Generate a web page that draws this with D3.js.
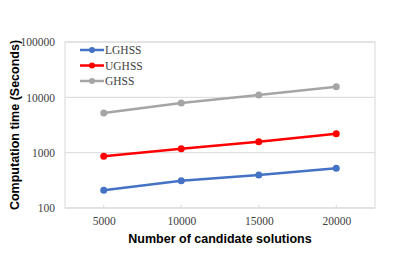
<!DOCTYPE html>
<html>
<head>
<meta charset="utf-8">
<script src="https://cdn.jsdelivr.net/npm/d3@7"></script>
<style>
  body { margin: 0; background: #fff; }
  .tick text { font-family: "Liberation Serif", serif; font-size: 11.5px; fill: #404040; }
  .title { font-family: "Liberation Sans", Arial, sans-serif; font-weight: bold; font-size: 12.5px; fill: #000; }
  .legend text { font-family: "Liberation Serif", serif; font-size: 11.5px; fill: #404040; }
</style>
</head>
<body>
<div id="chart"></div>
<script>
const categories = ["5000", "10000", "15000", "20000"]
const seriesNames = ["LGHSS", "UGHSS", "GHSS"]
const lghss = [209, 312, 395, 522]
const ughss = [861, 1180, 1580, 2200]
const ghss = [5220, 7920, 11050, 15600]
const yTicks = [100, 1000, 10000, 100000]
const colors = ["#4472C4", "#FF0000", "#A5A5A5"]

const series = [lghss, ughss, ghss].map((values, i) => ({
  name: seriesNames[i],
  color: colors[i],
  values: values.map((v, j) => ({ cat: categories[j], value: v }))
}))

const W = 397, H = 270
const margin = { top: 42, right: 22, bottom: 62, left: 65 }
const width = W - margin.left - margin.right
const height = H - margin.top - margin.bottom

const svg = d3.select("#chart").append("svg")
  .attr("width", W)
  .attr("height", H)

const g = svg.append("g")
  .attr("transform", "translate(" + margin.left + "," + margin.top + ")")

const x = d3.scalePoint().domain(categories).range([0, width]).padding(0.5)
const y = d3.scaleLog().domain([100, 100000]).range([height, 0])

// gridlines
g.append("g")
  .selectAll("line")
  .data(yTicks)
  .join("line")
    .attr("x1", 0).attr("x2", width)
    .attr("y1", d => y(d)).attr("y2", d => y(d))
    .attr("stroke", "#d9d9d9")
    .attr("stroke-width", 1)

// plot border
g.append("rect")
  .attr("x", 0).attr("y", 0)
  .attr("width", width).attr("height", height)
  .attr("fill", "none")
  .attr("stroke", "#d9d9d9")

// small ticks on x axis
g.append("g")
  .selectAll("line")
  .data(categories)
  .join("line")
    .attr("x1", d => x(d)).attr("x2", d => x(d))
    .attr("y1", height).attr("y2", height - 3)
    .attr("stroke", "#d9d9d9")

const xAxis = g.append("g")
  .attr("transform", "translate(0," + height + ")")
  .call(d3.axisBottom(x).tickSize(0).tickPadding(9))
xAxis.select(".domain").remove()

const yAxis = g.append("g")
  .call(d3.axisLeft(y).tickValues(yTicks).tickFormat(d3.format("d")).tickSize(0).tickPadding(10))
yAxis.select(".domain").remove()

const line = d3.line()
  .x(d => x(d.cat))
  .y(d => y(d.value))

series.forEach(s => {
  g.append("path")
    .datum(s.values)
    .attr("fill", "none")
    .attr("stroke", s.color)
    .attr("stroke-width", 2.5)
    .attr("d", line)
  g.append("g")
    .selectAll("circle")
    .data(s.values)
    .join("circle")
      .attr("cx", d => x(d.cat))
      .attr("cy", d => y(d.value))
      .attr("r", 3.5)
      .attr("fill", s.color)
})

// legend
const legend = svg.append("g")
  .attr("class", "legend")
  .attr("transform", "translate(80,50)")

series.forEach((s, i) => {
  const row = legend.append("g").attr("transform", "translate(0," + (i * 15.5) + ")")
  row.append("line")
    .attr("x1", 0).attr("x2", 24)
    .attr("stroke", s.color)
    .attr("stroke-width", 2.5)
  row.append("circle")
    .attr("cx", 12).attr("r", 3)
    .attr("fill", s.color)
  row.append("text")
    .attr("x", 25).attr("y", 4)
    .text(s.name)
})

// axis titles
svg.append("text")
  .attr("class", "title")
  .attr("x", margin.left + width / 2)
  .attr("y", 243)
  .attr("text-anchor", "middle")
  .text("Number of candidate solutions")

svg.append("text")
  .attr("class", "title")
  .attr("transform", "translate(19," + (margin.top + height / 2) + ") rotate(-90)")
  .attr("text-anchor", "middle")
  .text("Computation time (Seconds)")
</script>
</body>
</html>
